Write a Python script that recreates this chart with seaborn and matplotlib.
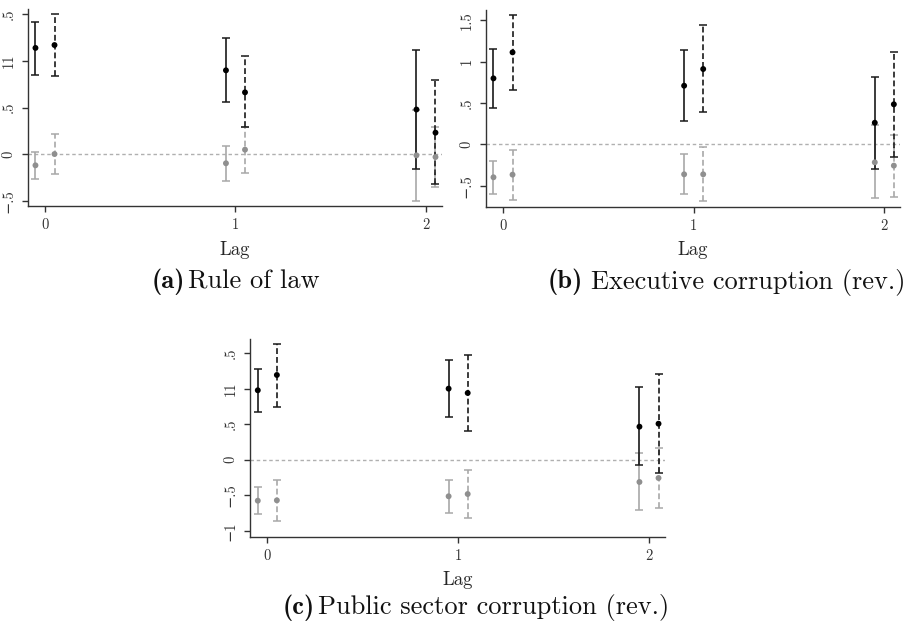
import numpy as np
import pandas as pd
import matplotlib
matplotlib.use("Agg")
import matplotlib.pyplot as plt
import seaborn as sns

sns.set_theme(style="ticks")
plt.rcParams["font.family"] = ["cmr10", "DejaVu Serif"]
plt.rcParams["mathtext.fontset"] = "cm"
plt.rcParams["axes.unicode_minus"] = False

lags = [0, 1, 2]

# Rule of law
a_solid_est = [1.14, 0.90, 0.48]
a_solid_lo = [0.85, 0.557, -0.161]
a_solid_hi = [1.421, 1.243, 1.121]
a_dash_est = [1.171, 0.664, 0.232]
a_dash_lo = [0.839, 0.289, -0.321]
a_dash_hi = [1.5, 1.05, 0.793]
a_gsolid_est = [-0.118, -0.096, -0.011]
a_gsolid_lo = [-0.268, -0.286, -0.497]
a_gsolid_hi = [0.028, 0.093, 0.475]
a_gdash_est = [0.003, 0.05, -0.029]
a_gdash_lo = [-0.211, -0.2, -0.354]
a_gdash_hi = [0.221, 0.289, 0.289]

# Executive corruption (rev.)
b_solid_est = [0.798, 0.709, 0.261]
b_solid_lo = [0.443, 0.278, -0.295]
b_solid_hi = [1.157, 1.141, 0.814]
b_dash_est = [1.113, 0.911, 0.484]
b_dash_lo = [0.653, 0.391, -0.15]
b_dash_hi = [1.568, 1.439, 1.117]
b_gsolid_est = [-0.399, -0.363, -0.218]
b_gsolid_lo = [-0.605, -0.605, -0.653]
b_gsolid_hi = [-0.198, -0.117, 0.23]
b_gdash_est = [-0.367, -0.363, -0.258]
b_gdash_lo = [-0.67, -0.69, -0.633]
b_gdash_hi = [-0.073, -0.036, 0.117]

# Public sector corruption (rev.)
c_solid_est = [0.976, 0.999, 0.464]
c_solid_lo = [0.671, 0.596, -0.079]
c_solid_hi = [1.28, 1.402, 1.018]
c_dash_est = [1.191, 0.938, 0.506]
c_dash_lo = [0.745, 0.408, -0.192]
c_dash_hi = [1.627, 1.477, 1.21]
c_gsolid_est = [-0.577, -0.515, -0.314]
c_gsolid_lo = [-0.759, -0.75, -0.712]
c_gsolid_hi = [-0.388, -0.286, 0.09]
c_gdash_est = [-0.572, -0.483, -0.258]
c_gdash_lo = [-0.862, -0.825, -0.675]
c_gdash_hi = [-0.281, -0.141, 0.164]

a_yticks = [-0.5, 0, 0.5, 1, 1.5]
a_yticklabels = ["\u2212.5", "0", ".5", "11", ".5"]
b_yticks = [-0.5, 0, 0.5, 1, 1.5]
b_yticklabels = ["\u2212.5", "0", ".5", "1", "1.5"]
c_yticks = [-1, -0.5, 0, 0.5, 1, 1.5]
c_yticklabels = ["\u22121", "\u2212.5", "0", ".5", "11", ".5"]

# caption: (bold tag, title, left x in figure fraction, center y, gap in px)
captions = [
    ("(a)", "Rule of law", 0.166, 0.5495, 3),
    ("(b)", "Executive corruption (rev.)", 0.598, 0.5495, 8),
    ("(c)", "Public sector corruption (rev.)", 0.309, 0.0288, 3),
]

panels = [
    dict(rect=[0.0306, 0.6709, 0.4519, 0.3147], ylim=(-0.554, 1.557),
         yticks=a_yticks, yticklabels=a_yticklabels,
         series=[(a_gsolid_est, a_gsolid_lo, a_gsolid_hi),
                 (a_gdash_est, a_gdash_lo, a_gdash_hi),
                 (a_solid_est, a_solid_lo, a_solid_hi),
                 (a_dash_est, a_dash_lo, a_dash_hi)]),
    dict(rect=[0.5306, 0.6698, 0.4523, 0.3142], ylim=(-0.755, 1.625),
         yticks=b_yticks, yticklabels=b_yticklabels,
         series=[(b_gsolid_est, b_gsolid_lo, b_gsolid_hi),
                 (b_gdash_est, b_gdash_lo, b_gdash_hi),
                 (b_solid_est, b_solid_lo, b_solid_hi),
                 (b_dash_est, b_dash_lo, b_dash_hi)]),
    dict(rect=[0.2733, 0.1427, 0.4527, 0.3153], ylim=(-1.083, 1.693),
         yticks=c_yticks, yticklabels=c_yticklabels,
         series=[(c_gsolid_est, c_gsolid_lo, c_gsolid_hi),
                 (c_gdash_est, c_gdash_lo, c_gdash_hi),
                 (c_solid_est, c_solid_lo, c_solid_hi),
                 (c_dash_est, c_dash_lo, c_dash_hi)]),
]

# style for: gray solid, gray dashed, black solid, black dashed
offsets = [-0.05, 0.05, -0.05, 0.05]
line_colors = ["#a8a8a8", "#a8a8a8", "#1a1a1a", "#1a1a1a"]
point_colors = ["#8f8f8f", "#8f8f8f", "#000000", "#000000"]
linestyles = ["-", (0, (3.5, 1.8)), "-", (0, (3.5, 1.8))]
names = ["gs", "gd", "bs", "bd"]

fig = plt.figure(figsize=(9.16, 6.26), dpi=100)

for p in panels:
    ax = fig.add_axes(p["rect"])
    ax.axhline(0, color="#b0b0b0", lw=1.0, ls=(0, (2.5, 2)), zorder=1)
    rows = []
    for k, (est, lo, hi) in enumerate(p["series"]):
        xs = np.array(lags) + offsets[k]
        est = np.array(est)
        err = np.vstack([est - np.array(lo), np.array(hi) - est])
        eb = ax.errorbar(xs, est, yerr=err, fmt="none", ecolor=line_colors[k],
                         elinewidth=1.2, capsize=2.6, capthick=1.1, zorder=2 + k)
        for lc in eb[2]:
            lc.set_linestyle(linestyles[k])
        for x, e in zip(xs, est):
            rows.append({"x": x, "y": e, "s": names[k]})
    df = pd.DataFrame(rows)
    sns.scatterplot(data=df, x="x", y="y", hue="s", palette=dict(zip(names, point_colors)),
                    s=18, linewidth=0, legend=False, ax=ax, zorder=10)
    ax.set_xlim(-0.089, 2.084)
    ax.set_ylim(*p["ylim"])
    ax.set_xticks(lags)
    ax.set_xticklabels([str(v) for v in lags], fontsize=10.5)
    ax.set_yticks(p["yticks"])
    ax.set_yticklabels(p["yticklabels"], fontsize=10.5, rotation=90, va="center")
    ax.set_xlabel("Lag", fontsize=13.5, labelpad=6)
    ax.set_ylabel("")
    sns.despine(ax=ax)
    for side in ["left", "bottom"]:
        ax.spines[side].set_color("#333333")
        ax.spines[side].set_linewidth(1.0)
    ax.tick_params(axis="both", length=4, width=1, color="#333333", pad=5,
                   labelcolor="#333333")

fig.canvas.draw()
renderer = fig.canvas.get_renderer()
fig_w = fig.bbox.width
for tag, title, x, y, gap in captions:
    t1 = fig.text(x, y, tag, ha="left", va="center", fontsize=19,
                  family=["cmb10", "DejaVu Serif"], color="#111111")
    w = t1.get_window_extent(renderer).width
    fig.text(x + (w + gap) / fig_w, y, title, ha="left", va="center",
             fontsize=19, color="#111111")

fig.savefig("out.png", dpi=100)
